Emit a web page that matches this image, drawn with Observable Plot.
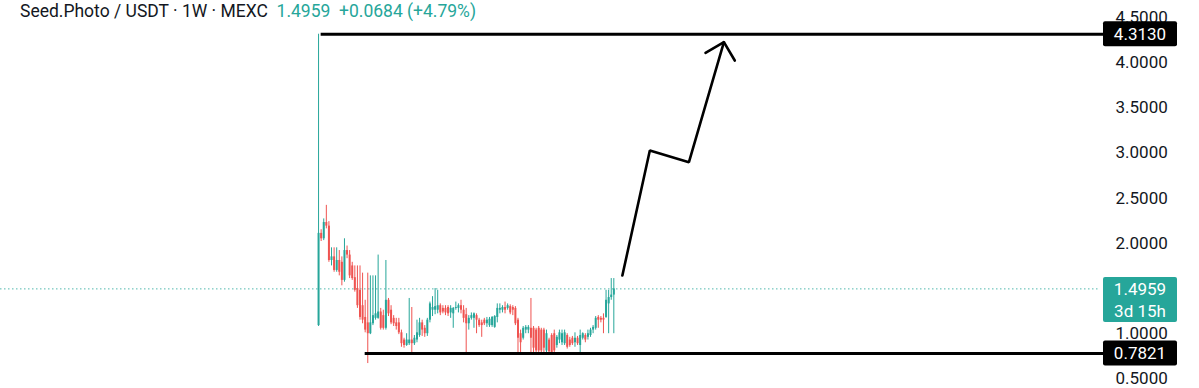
<!DOCTYPE html>
<html><head><meta charset="utf-8">
<script src="https://cdn.jsdelivr.net/npm/d3@7"></script>
<script src="https://cdn.jsdelivr.net/npm/@observablehq/plot@0.6"></script>
<style>
body{margin:0;background:#fff;font-family:Roboto,"Noto Sans",sans-serif;}
#wrap{position:relative;width:1199px;height:388px;overflow:hidden;background:#fff}
#title{position:absolute;left:20px;top:1px;font-size:17.5px;color:#131722;white-space:pre;z-index:2}
#title .chg{color:#26a69a}
</style></head><body>
<div id="wrap"><div id="title"></div></div>
<script>
const symbol = "Seed.Photo / USDT · 1W · MEXC";
const lastPrice = 1.4959;
const change = 0.0684;
const changePct = 4.79;
const countdown = "3d 15h";

const open = [1.09,2.11,2.05,2.23,2.19,1.81,1.85,1.70,1.81,1.79,
1.59,1.92,1.87,1.75,1.62,1.50,1.48,1.31,1.18,1.12,
1.00,1.11,1.17,1.17,1.24,1.20,1.06,1.37,1.26,1.17,
1.12,1.12,1.01,0.93,0.87,0.89,0.93,0.89,0.93,0.98,
1.12,1.06,1.00,1.15,1.26,1.26,1.26,1.31,1.28,1.28,
1.29,1.23,1.22,1.28,1.28,1.31,1.26,1.21,1.11,1.17,
1.17,1.20,1.15,1.12,1.15,1.11,1.09,1.09,1.07,1.18,
1.26,1.26,1.29,1.28,1.30,1.29,1.28,1.15,1.00,0.95,
1.04,1.04,1.06,1.06,1.04,1.06,1.04,1.04,0.81,0.93,
0.98,1.00,0.87,0.93,0.90,0.89,0.98,0.93,0.95,0.90,
0.95,0.87,0.95,0.98,0.96,0.98,1.04,1.06,1.18,1.17,
1.17,1.18,1.33,1.40,1.4275];
const high = [4.313,2.15,2.27,2.42,2.24,1.95,1.95,1.95,1.92,1.85,
2.05,1.97,1.92,1.79,1.75,1.75,1.75,1.67,1.37,1.67,
1.64,1.64,1.64,1.87,1.28,1.26,1.81,1.39,1.31,1.20,
1.17,1.17,1.04,0.95,1.00,1.39,1.29,0.98,1.15,1.17,
1.15,1.09,1.17,1.35,1.41,1.50,1.48,1.33,1.31,1.31,
1.31,1.31,1.29,1.35,1.33,1.37,1.31,1.28,1.20,1.23,
1.23,1.22,1.17,1.15,1.17,1.18,1.18,1.19,1.20,1.33,
1.33,1.31,1.35,1.33,1.32,1.31,1.30,1.17,1.04,1.08,
1.09,1.09,1.39,1.08,1.06,1.08,1.06,1.06,1.04,0.95,
1.00,1.04,0.98,1.04,1.04,1.04,1.00,0.96,0.97,1.01,
0.97,1.04,1.01,1.00,1.04,1.06,1.09,1.19,1.20,1.19,
1.22,1.48,1.48,1.61,1.61];
const low = [1.08,2.02,2.03,2.16,1.79,1.75,1.68,1.68,1.64,1.53,
1.57,1.83,1.61,1.59,1.46,1.28,1.15,1.11,1.01,0.67,
0.99,1.09,1.15,1.16,1.04,1.04,1.04,1.19,1.10,1.08,
1.04,0.99,0.85,0.84,0.86,0.87,0.78,0.87,0.90,0.96,
0.97,0.96,0.97,1.12,1.19,1.21,1.22,1.20,1.22,1.20,
1.19,1.17,1.06,1.26,1.23,1.22,1.12,0.76,1.04,1.15,
1.06,1.00,1.07,0.96,1.09,1.07,1.07,1.07,1.06,1.12,
1.22,1.23,1.22,1.26,1.21,1.20,1.09,0.78,0.78,0.93,
1.00,1.00,0.79,0.79,0.79,0.79,0.78,0.79,0.79,0.78,
0.76,0.79,0.84,0.89,0.87,0.87,0.83,0.85,0.87,0.85,
0.87,0.79,0.93,0.90,0.93,0.96,1.00,1.04,1.06,1.12,
1.00,1.17,1.00,1.37,1.00];
const close = [2.11,2.05,2.23,2.19,1.81,1.85,1.70,1.81,1.68,1.59,
1.92,1.87,1.64,1.61,1.48,1.31,1.18,1.15,1.04,1.00,
1.12,1.20,1.22,1.24,1.06,1.06,1.37,1.22,1.12,1.11,
1.08,1.01,0.89,0.87,0.93,0.93,0.89,0.95,1.01,1.12,
1.04,1.00,1.15,1.33,1.29,1.30,1.31,1.23,1.24,1.23,
1.22,1.28,1.28,1.29,1.31,1.26,1.17,1.11,1.17,1.20,
1.22,1.15,1.09,1.09,1.11,1.15,1.16,1.18,1.19,1.28,
1.28,1.29,1.26,1.31,1.23,1.26,1.11,0.95,0.90,1.06,
1.07,1.07,0.95,0.84,0.81,0.81,0.81,0.84,1.00,0.80,
0.79,0.81,0.96,1.01,1.00,1.01,0.85,0.87,0.89,0.95,
0.89,0.98,1.00,0.93,1.00,1.04,1.07,1.17,1.15,1.15,
1.15,1.37,1.40,1.4275,1.4959];

// drawn levels (price, first bar index)
const levelPrice = [4.3130, 0.7821];
const levelFrom = [1, 18];
// drawn zig-zag arrow (bar index, price)
const arrowIdx = [117.3, 127.9, 143.0, 156.5];
const arrowPrice = [1.644, 3.027, 2.897, 4.225];
const headIdx = [149.4, 156.5, 160.7];
const headPrice = [4.107, 4.225, 4.022];
const yTicks = [0.5, 1.0, 1.5, 2.0, 2.5, 3.0, 3.5, 4.0, 4.5];

const UP = "#26a69a", DOWN = "#ef5350";
const fmt = d3.format(".4f");
const xDomain = [-122.8, 301.9];

document.getElementById("title").innerHTML =
  symbol + '  <span class="chg">' + fmt(lastPrice) + '  +' + fmt(change) + ' (+' + changePct.toFixed(2) + '%)</span>';

const candles = close.map((c, i) => ({i, o: open[i], h: high[i], l: low[i], c, col: c >= open[i] ? UP : DOWN}));
const levels = levelPrice.map((p, k) => ({p, from: levelFrom[k], to: xDomain[1] + 1.2}));
const arrow = arrowIdx.map((x, k) => ({x, y: arrowPrice[k]}));
const head = headIdx.map((x, k) => ({x, y: headPrice[k]}));

function priceLabels(index, scales, values, dims) {
  const g = d3.create("svg:g").attr("font-family", "Roboto, sans-serif").attr("font-size", 17);
  const x0 = dims.width - dims.marginRight + 3, w = 74;
  for (const p of levelPrice) {
    const y = scales.y(p);
    g.append("rect").attr("x", x0).attr("y", y - 12.5).attr("width", w).attr("height", 25).attr("rx", 2).attr("fill", "#000");
    g.append("text").attr("x", x0 + w / 2).attr("y", y).attr("dy", "0.36em").attr("text-anchor", "middle").attr("fill", "#fff").text(fmt(p));
  }
  const y = scales.y(lastPrice);
  g.append("rect").attr("x", x0).attr("y", y - 11.5).attr("width", w).attr("height", 45).attr("rx", 2).attr("fill", UP);
  g.append("text").attr("x", x0 + w / 2).attr("y", y).attr("dy", "0.36em").attr("text-anchor", "middle").attr("fill", "#fff").text(fmt(lastPrice));
  g.append("text").attr("x", x0 + w / 2).attr("y", y + 22).attr("dy", "0.36em").attr("text-anchor", "middle").attr("fill", "#fff").text(countdown);
  return g.node();
}

const chart = Plot.plot({
  width: 1199, height: 388,
  marginLeft: 0, marginRight: 99, marginTop: 0, marginBottom: 0,
  style: {fontFamily: "Roboto, sans-serif", fontSize: "17px", color: "#131722", background: "transparent", overflow: "visible"},
  x: {domain: xDomain, axis: null},
  y: {domain: [0.394, 4.686], axis: null},
  marks: [
    Plot.ruleY([lastPrice], {stroke: UP, strokeOpacity: 0.8, strokeWidth: 1, strokeDasharray: "1.5,2.5"}),
    Plot.ruleX(candles, {x: "i", y1: "l", y2: "h", stroke: "col", strokeWidth: 1}),
    Plot.ruleX(candles, {x: "i", y1: "o", y2: "c", stroke: "col", strokeWidth: 2}),
    Plot.ruleY(levels, {y: "p", x1: "from", x2: "to", stroke: "#000", strokeWidth: 3, clip: false}),
    Plot.line(arrow, {x: "x", y: "y", stroke: "#000", strokeWidth: 2.6, strokeLinejoin: "miter", curve: "linear"}),
    Plot.line(head, {x: "x", y: "y", stroke: "#000", strokeWidth: 2.6, strokeLinejoin: "miter", curve: "linear"}),
    Plot.axisY(yTicks, {anchor: "right", tickSize: 0, tickPadding: 15, tickFormat: fmt, label: null, fill: "#131722"}),
    priceLabels
  ]
});
chart.style.position = "absolute";
chart.style.left = "0px";
chart.style.top = "0px";
document.getElementById("wrap").appendChild(chart);
</script>
</body></html>
